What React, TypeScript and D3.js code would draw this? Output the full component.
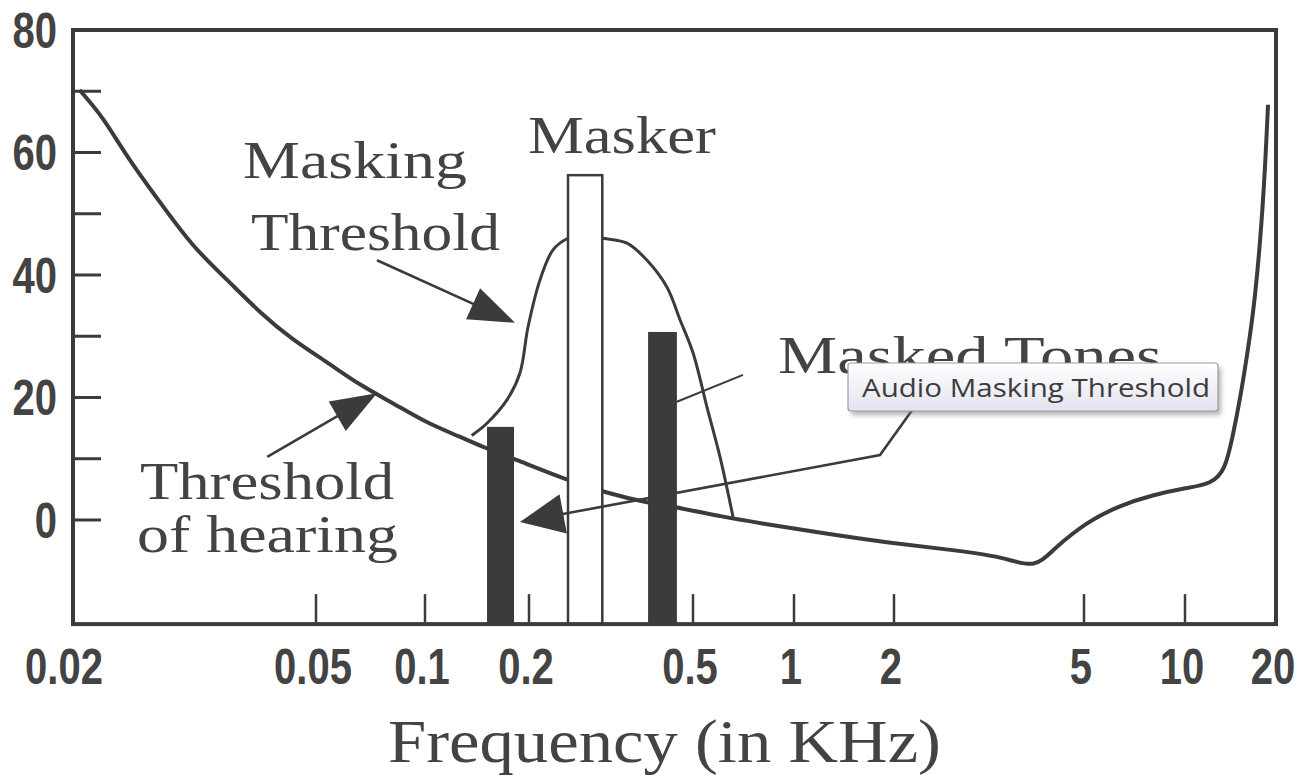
import React from 'react';
import * as d3 from 'd3';

// ---- axis data ----
const xTickValues = [0.02, 0.05, 0.1, 0.2, 0.5, 1, 2, 5, 10, 20];
const xTickLabels = ['0.02', '0.05', '0.1', '0.2', '0.5', '1', '2', '5', '10', '20'];
// pixel positions of the (hand-drawn, non-uniform) log axis in the scan
const xTickPixels = [73, 316, 425, 529, 693, 794, 894, 1084, 1185, 1276];
const yTickValues = [0, 10, 20, 30, 40, 50, 60, 70];
const yLabelValues = [0, 20, 40, 60, 80];

// ---- threshold of hearing (kHz, dB) ----
const hearingFreq = [0.0205, 0.0224, 0.0245, 0.0278, 0.0314, 0.0358, 0.0405, 0.0458, 0.0536, 0.0661, 0.0816, 0.1013, 0.1263, 0.1472, 0.1846, 0.2473, 0.309, 0.3867, 0.465, 0.614, 0.792, 1.197, 1.905, 2.658, 3.383, 3.948, 4.306, 5.1, 6.4, 8.03, 10, 12.28, 13.56, 14.31, 15.2, 16.16, 17.04, 17.98, 18.53, 18.82];
const hearingDb = [70.2, 65.8, 59.3, 51.8, 44.6, 39.2, 33.8, 29.4, 25.8, 22.0, 19.1, 15.8, 13.6, 11.9, 9.8, 6.5, 4.4, 2.8, 2.0, 0.5, -0.5, -2.1, -3.7, -4.9, -6.0, -8.0, -4.8, -0.3, 2.4, 4.1, 5.2, 5.9, 8.2, 13.1, 19.6, 27.8, 35.9, 49.0, 60.4, 67.8];

// ---- masking threshold (kHz, dB) ----
const maskFreq = [0.1365, 0.1512, 0.1727, 0.1883, 0.1987, 0.2127, 0.2287, 0.2487, 0.2735, 0.3024, 0.3458, 0.3867, 0.4324, 0.465, 0.5, 0.5505, 0.6018, 0.658];
const maskDb = [13.8, 15.8, 19.6, 24.0, 31.5, 39.2, 44.1, 46.0, 46.7, 46.0, 45.2, 42.4, 38.0, 32.7, 27.3, 18.4, 10.3, 0.5];

// ---- tones ----
const toneNames = ['Masked tone 1', 'Masker', 'Masked tone 2'];
const toneLoFreq = [0.1512, 0.2487, 0.389];
const toneHiFreq = [0.181, 0.3012, 0.457];
const toneDb = [15.2, 56.3, 30.7];
const toneIsMasker = [false, true, false];

// ---- annotation arrows (kHz, dB), last point is the tip ----
const arrowMaskingFreq = [0.0737, 0.1822];
const arrowMaskingDb = [42.4, 32.2];
const arrowHearingFreq = [0.0416, 0.0737];
const arrowHearingDb = [10.3, 20.7];
const arrowTonesFreq = [2.32, 1.815, 0.1883];
const arrowTonesDb = [20.8, 10.6, -0.33];
const leaderFreq = [0.7047, 0.457];
const leaderDb = [23.7, 19.3];

const W = 1303;
const H = 777;
const INK = '#3b3b3b';
const TEXT = '#434343';
const SERIF = '"Liberation Serif", "Times New Roman", serif';
const NUM = '"Liberation Sans", Arial, sans-serif';

const x = d3.scaleLog().domain(xTickValues).range(xTickPixels);
const y = d3.scaleLinear().domain([-17, 80]).range([624.1, 30]);

const smooth = d3
  .line<[number, number]>()
  .x((d) => x(d[0]))
  .y((d) => y(d[1]))
  .curve(d3.curveBasis);

const through = d3
  .line<[number, number]>()
  .x((d) => x(d[0]))
  .y((d) => y(d[1]))
  .curve(d3.curveCatmullRom.alpha(0.5));

const straight = d3
  .line<[number, number]>()
  .x((d) => x(d[0]))
  .y((d) => y(d[1]));

function zip(a: number[], b: number[]): [number, number][] {
  return a.map((v, i) => [v, b[i]] as [number, number]);
}

function Arrow({ fs, ds, len = 46, half = 17 }: { fs: number[]; ds: number[]; len?: number; half?: number }) {
  const pts = zip(fs, ds);
  const n = pts.length;
  const tx = x(pts[n - 1][0]);
  const ty = y(pts[n - 1][1]);
  const px = x(pts[n - 2][0]);
  const py = y(pts[n - 2][1]);
  const dx = tx - px;
  const dy = ty - py;
  const L = Math.hypot(dx, dy);
  const ux = dx / L;
  const uy = dy / L;
  const bx = tx - ux * len;
  const by = ty - uy * len;
  const head = `M${tx},${ty}L${bx - uy * half},${by + ux * half}L${bx + uy * half},${by - ux * half}Z`;
  const shaft = pts.slice(0, n - 1).map((p) => [x(p[0]), y(p[1])]);
  shaft.push([tx - ux * len * 0.8, ty - uy * len * 0.8]);
  return (
    <g>
      <path d={'M' + shaft.map((p) => p.join(',')).join('L')} fill="none" stroke={INK} strokeWidth={2.6} />
      <path d={head} fill={INK} />
    </g>
  );
}

function Num({ px, py, anchor, children }: { px: number; py: number; anchor: string; children: React.ReactNode }) {
  return (
    <g transform={`translate(${px},${py}) scale(0.8,1)`}>
      <text x={0} y={0} textAnchor={anchor} fontFamily={NUM} fontWeight="bold" fontSize={50} fill={TEXT}>
        {children}
      </text>
    </g>
  );
}

export default function App() {
  const hearing = zip(hearingFreq, hearingDb);
  const mask = zip(maskFreq, maskDb);
  const x0 = xTickPixels[0];
  const x1 = xTickPixels[xTickPixels.length - 1];
  const yb = y(-17);
  const yt = y(80);

  return (
    <svg width={W} height={H} style={{ position: 'absolute', left: 0, top: 0, background: '#fff' }}>
      <defs>
        <linearGradient id="tip" x1="0" y1="0" x2="0" y2="1">
          <stop offset="0" stopColor="#ffffff" />
          <stop offset="1" stopColor="#e3e3ef" />
        </linearGradient>
        <filter id="shadow" x="-10%" y="-30%" width="130%" height="180%">
          <feGaussianBlur stdDeviation="2.5" />
        </filter>
      </defs>
      <rect width={W} height={H} fill="#fff" />

      {/* y ticks */}
      {yTickValues.map((v) => (
        <line key={'yt' + v} x1={x0} x2={x0 + 28} y1={y(v)} y2={y(v)} stroke={INK} strokeWidth={3} />
      ))}
      {/* x ticks */}
      {xTickValues.slice(1, -1).map((v) => (
        <line key={'xt' + v} x1={x(v)} x2={x(v)} y1={yb} y2={yb - 30} stroke={INK} strokeWidth={2.5} />
      ))}

      {/* masking threshold */}
      <path d={through(mask) || ''} fill="none" stroke={INK} strokeWidth={3} />
      {/* threshold of hearing */}
      <path d={smooth(hearing) || ''} fill="none" stroke={INK} strokeWidth={4} />

      {/* tones */}
      {toneNames.map((name, i) => {
        const xl = x(toneLoFreq[i]);
        const xr = x(toneHiFreq[i]);
        const top = y(toneDb[i]);
        return toneIsMasker[i] ? (
          <rect key={name} x={xl} y={top} width={xr - xl} height={yb - top} fill="#fff" stroke={INK} strokeWidth={2.5} />
        ) : (
          <rect key={name} x={xl} y={top} width={xr - xl} height={yb - top} fill={INK} />
        );
      })}

      {/* arrows */}
      <Arrow fs={arrowMaskingFreq} ds={arrowMaskingDb} />
      <Arrow fs={arrowHearingFreq} ds={arrowHearingDb} />
      <Arrow fs={arrowTonesFreq} ds={arrowTonesDb} len={44} half={20} />
      <path d={straight(zip(leaderFreq, leaderDb)) || ''} fill="none" stroke={INK} strokeWidth={2} />

      {/* frame */}
      <rect x={x0} y={yt} width={x1 - x0} height={yb - yt} fill="none" stroke={INK} strokeWidth={4} />

      {/* y labels */}
      {yLabelValues.map((v) => (
        <Num key={'yl' + v} px={57} py={y(v) + 18} anchor="end">
          {v}
        </Num>
      ))}
      {/* x labels */}
      {xTickValues.map((v, i) => (
        <Num key={'xl' + v} px={x(v) - (i === 0 ? 9 : 3)} py={684} anchor="middle">
          {xTickLabels[i]}
        </Num>
      ))}

      {/* annotation labels */}
      <g fontFamily={SERIF} fontSize={52} fill={TEXT}>
        <text x={243} y={178} textLength={224} lengthAdjust="spacingAndGlyphs">Masking</text>
        <text x={251} y={250} textLength={249} lengthAdjust="spacingAndGlyphs">Threshold</text>
        <text x={528} y={153} textLength={188} lengthAdjust="spacingAndGlyphs">Masker</text>
        <text x={778} y={373} textLength={384} lengthAdjust="spacingAndGlyphs">Masked Tones</text>
        <text x={140} y={499} textLength={254} lengthAdjust="spacingAndGlyphs">Threshold</text>
        <text x={137} y={552} textLength={261} lengthAdjust="spacingAndGlyphs">of hearing</text>
      </g>
      <text x={388} y={762} fontFamily={SERIF} fontSize={62} fill={TEXT} textLength={553} lengthAdjust="spacingAndGlyphs">
        Frequency (in KHz)
      </text>

      {/* tooltip */}
      <rect x={851} y={367} width={370} height={48} rx={3} fill="#777" opacity={0.55} filter="url(#shadow)" />
      <rect x={848} y={363} width={370} height={48} rx={3} fill="url(#tip)" stroke="#9c9cac" strokeWidth={1.2} />
      <text x={862} y={397} fontFamily='"Open Sans", "Noto Sans", sans-serif' fontSize={25} fill="#3c3c3c" textLength={348} lengthAdjust="spacingAndGlyphs">
        Audio Masking Threshold
      </text>
    </svg>
  );
}
